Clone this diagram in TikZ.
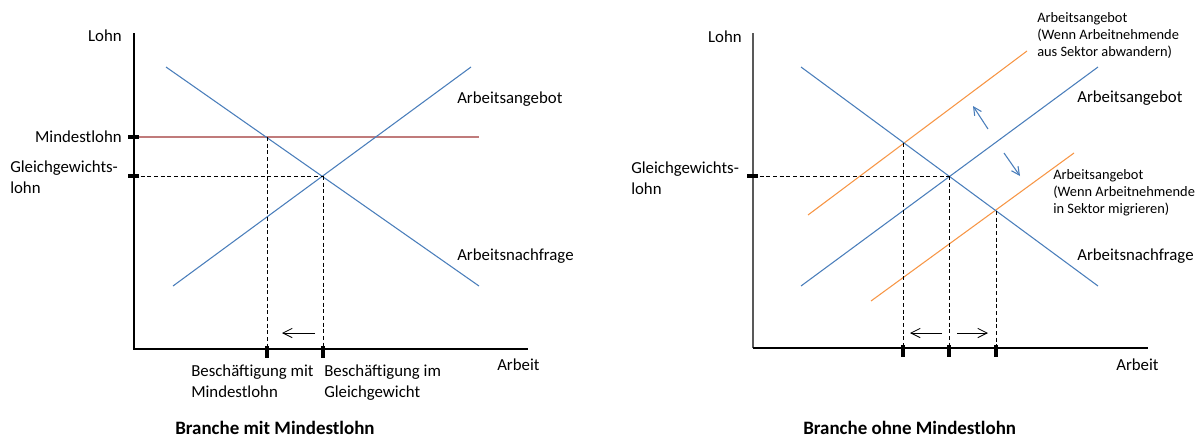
\documentclass[tikz,border=0pt]{standalone}
\usepackage{fontspec}
\setmainfont{Carlito}
\usetikzlibrary{arrows.meta, positioning, calc}
\definecolor{curveBlue}{HTML}{4A7EBB}
\definecolor{curveOrange}{HTML}{F79646}
\definecolor{minRed}{HTML}{C07B7B}
\tikzset{
    axisLine/.style={line width=1.1pt, black},
    curve/.style={line width=0.8pt, curveBlue},
    shiftCurve/.style={line width=0.8pt, curveOrange},
    minLine/.style={line width=1.4pt, minRed},
    helpLine/.style={dashed, dash pattern=on 3pt off 2pt, line width=0.75pt},
    tickMark/.style={line width=2.4pt},
    moveArrow/.style={-{Straight Barb[length=7pt, width=7pt]}, line width=0.6pt},
    shiftArrow/.style={-{Straight Barb[length=6pt, width=6pt]}, line width=0.8pt, curveBlue},
    lbl/.style={inner sep=0pt, font=\fontsize{12.6}{15.4}\selectfont},
    smallLbl/.style={inner sep=0pt, align=left, font=\fontsize{10.8}{12.8}\selectfont},
    titleLbl/.style={inner sep=0pt, font=\fontsize{14.2}{16}\selectfont\bfseries},
}
\newcommand{\tickX}[1]{\draw[tickMark] ($(#1)+(0,-3)$) -- ($(#1)+(0,9)$);}
\newcommand{\tickY}[1]{\draw[tickMark] ($(#1)+(-6,0)$) -- ($(#1)+(5,0)$);}

\begin{document}
\begin{tikzpicture}[x=0.75pt, y=-0.75pt]
    \useasboundingbox (0,0) rectangle (1199,437);

    % left panel: Branche mit Mindestlohn
    \coordinate (oL) at (134,349);
    \coordinate (yTopL) at (134,33);
    \coordinate (xEndL) at (528,349);
    \coordinate (dStartL) at (166,67);
    \coordinate (dEndL) at (479,286);
    \coordinate (sStartL) at (173,286);
    \coordinate (sEndL) at (471,67);
    \coordinate (minL) at (134,137);
    \coordinate (minEndL) at (479,137);
    \coordinate (eqWageL) at (134,176);
    \coordinate (minPt) at (267,137);
    \coordinate (eqPtL) at (323,176);
    \coordinate (qMin) at (267,349);
    \coordinate (qEqL) at (323,349);
    \coordinate (arrL1) at (315,333);
    \coordinate (arrL2) at (282,333);

    \draw[minLine] (minL) -- (minEndL);
    \draw[curve] (dStartL) -- (dEndL);
    \draw[curve] (sStartL) -- (sEndL);
    \draw[helpLine] (eqWageL) -- (eqPtL);
    \draw[helpLine] (minPt) -- (qMin);
    \draw[helpLine] (eqPtL) -- (qEqL);
    \draw[axisLine] (yTopL) -- (oL) -- (xEndL);
    \tickY{minL}
    \tickY{eqWageL}
    \tickX{qMin}
    \tickX{qEqL}
    \draw[moveArrow] (arrL1) -- (arrL2);

    \node[lbl, anchor=east] (lohnL) at (122,36) {Lohn};
    \node[lbl, anchor=east] (minLbl) at (122,137) {Mindestlohn};
    \node[lbl, anchor=north west, align=left] (eqLblL) at (10,161) {Gleichgewichts-\\lohn};
    \node[lbl, anchor=west] (supLblL) at (457,99) {Arbeitsangebot};
    \node[lbl, anchor=west] (demLblL) at (457,256) {Arbeitsnachfrage};
    \node[lbl, anchor=west] (arbL) at (497,365) {Arbeit};
    \node[lbl, anchor=north west, align=left] (qMinLbl) at (191,365) {Beschäftigung mit\\Mindestlohn};
    \node[lbl, anchor=north west, align=left] (qEqLbl) at (324,365) {Beschäftigung im\\Gleichgewicht};
    \node[titleLbl, anchor=base west] (titleL) at (175,434) {Branche mit Mindestlohn};

    % right panel: Branche ohne Mindestlohn
    \coordinate (oR) at (753,348);
    \coordinate (yTopR) at (753,33);
    \coordinate (xEndR) at (1148,348);
    \coordinate (dStartR) at (801,67);
    \coordinate (dEndR) at (1098,286);
    \coordinate (sStartR) at (801,286);
    \coordinate (sEndR) at (1098,67);
    \coordinate (upStart) at (808,215);
    \coordinate (upEnd) at (1027,51);
    \coordinate (loStart) at (871,301);
    \coordinate (loEnd) at (1074,153);
    \coordinate (eqWageR) at (753,176);
    \coordinate (upPt) at (903,143);
    \coordinate (eqPtR) at (949,176);
    \coordinate (loPt) at (996,211);
    \coordinate (qUp) at (903,348);
    \coordinate (qEqR) at (949,348);
    \coordinate (qLo) at (996,348);

    \draw[shiftCurve] (upStart) -- (upEnd);
    \draw[shiftCurve] (loStart) -- (loEnd);
    \draw[curve] (dStartR) -- (dEndR);
    \draw[curve] (sStartR) -- (sEndR);
    \draw[helpLine] (eqWageR) -- (eqPtR);
    \draw[helpLine] (upPt) -- (qUp);
    \draw[helpLine] (eqPtR) -- (qEqR);
    \draw[helpLine] (loPt) -- (qLo);
    \draw[axisLine, black!65] (yTopR) -- (oR);
    \draw[axisLine] (oR) -- (xEndR);
    \tickY{eqWageR}
    \tickX{qUp}
    \tickX{qEqR}
    \tickX{qLo}
    \draw[moveArrow] (942,333) -- (910,333);
    \draw[moveArrow] (957,333) -- (988,333);
    \draw[shiftArrow] (988,129) -- (973,106);
    \draw[shiftArrow] (1004,153) -- (1020,176);

    \node[lbl, anchor=east] (lohnR) at (742,37) {Lohn};
    \node[lbl, anchor=north west, align=left] (eqLblR) at (631,162) {Gleichgewichts-\\lohn};
    \node[lbl, anchor=west] (supLblR) at (1077,98) {Arbeitsangebot};
    \node[lbl, anchor=west] (demLblR) at (1077,256) {Arbeitsnachfrage};
    \node[lbl, anchor=west] (arbR) at (1116,365) {Arbeit};
    \node[smallLbl, anchor=north west] (upLbl) at (1037,12) {Arbeitsangebot\\(Wenn Arbeitnehmende\\aus Sektor abwandern)};
    \node[smallLbl, anchor=north west] (loLbl) at (1053,169) {Arbeitsangebot\\(Wenn Arbeitnehmende\\in Sektor migrieren)};
    \node[titleLbl, anchor=base west] (titleR) at (803,434) {Branche ohne Mindestlohn};
\end{tikzpicture}
\end{document}
